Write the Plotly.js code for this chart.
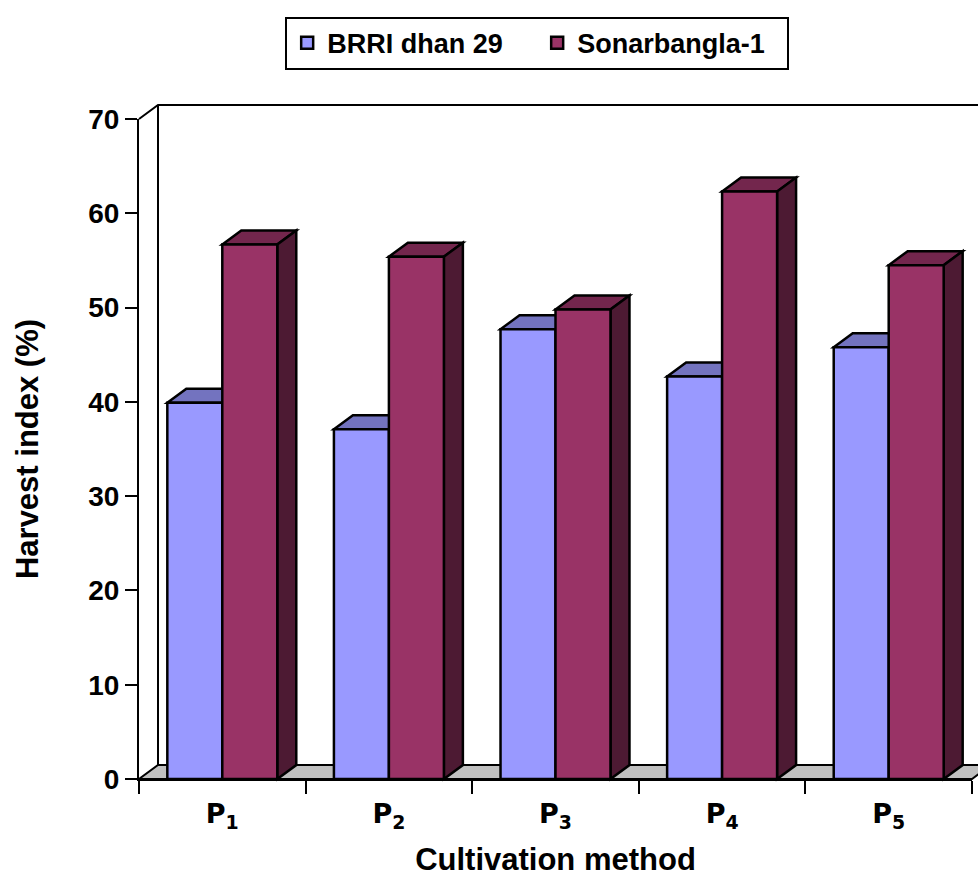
<!DOCTYPE html>
<html><head><meta charset="utf-8">
<script src="https://cdn.plot.ly/plotly-3.0.1.min.js"></script>
<style>body{margin:0;background:#fff}#chart{width:978px;height:877px}</style>
</head><body><div id="chart"></div>
<script>
// ---- data ----
const categories = ['P<sub>1</sub>', 'P<sub>2</sub>', 'P<sub>3</sub>', 'P<sub>4</sub>', 'P<sub>5</sub>'];
const catPos = [1, 2, 3, 4, 5];
const brriDhan29 = [39.9, 37.1, 47.7, 42.7, 45.8];
const sonarbangla1 = [56.7, 55.4, 49.8, 62.3, 54.5];
const yTickVals = [0, 10, 20, 30, 40, 50, 60, 70];
const seriesNames = ['BRRI dhan 29', 'Sonarbangla-1'];

// ---- style ----
const FONT = 'Liberation Sans, Arial, sans-serif';
const colFront = ['#9999FF', '#993366'];
const colTop = ['#7373BF', '#73264D'];
const colSide = ['#4D4D80', '#4D1A33'];
const M = {l: 139, r: 6, t: 119, b: 98};
const W = 978 - M.l - M.r, H = 877 - M.t - M.b;
const XR = [0.5, 5.5], YR = [0, 70];
const BARGAP = 0.34, BW = (1 - BARGAP) / 2;
const DX = 19, DY = 14; // depth in pixels
const LW = 2.5;

function px(x, d) { return (x - XR[0]) / (XR[1] - XR[0]) + (d || 0) / W; }
function py(y, d) { return (y - YR[0]) / (YR[1] - YR[0]) + (d || 0) / H; }
function path(pts) { return 'M' + pts.map(p => p[0] + ',' + p[1]).join('L') + 'Z'; }
function shape(pts, fill, lw) {
  return {type: 'path', xref: 'paper', yref: 'paper', layer: 'below',
    path: path(pts), fillcolor: fill, line: {color: 'black', width: lw}};
}

const shapes = [];
// floor
shapes.push(shape([[px(XR[0]), py(0)], [px(XR[1]), py(0)], [px(XR[1], DX), py(0, DY)], [px(XR[0], DX), py(0, DY)]], '#C0C0C0', 2));
// back wall outline
shapes.push({type: 'path', xref: 'paper', yref: 'paper', layer: 'below',
  path: 'M' + px(XR[0]) + ',' + py(YR[1]) + 'L' + px(XR[0], DX) + ',' + py(YR[1], DY) +
        'L' + px(XR[1], DX + 20) + ',' + py(YR[1], DY),
  line: {color: 'black', width: 2}});
shapes.push({type: 'line', xref: 'paper', yref: 'paper', layer: 'below',
  x0: px(XR[0], DX), x1: px(XR[0], DX), y0: py(0, DY), y1: py(YR[1], DY),
  line: {color: 'black', width: 2}});

// 3D faces of bars
const allSeries = [brriDhan29, sonarbangla1];
allSeries.forEach((vals, t) => {
  vals.forEach((v, i) => {
    const l = catPos[i] - BW + t * BW, r = l + BW;
    shapes.push(shape([[px(l), py(v)], [px(r), py(v)], [px(r, DX), py(v, DY)], [px(l, DX), py(v, DY)]], colTop[t], LW));
    if (t === 1) {
      shapes.push(shape([[px(r), py(0)], [px(r), py(v)], [px(r, DX), py(v, DY)], [px(r, DX), py(0, DY)]], colSide[t], LW));
    }
  });
});

const traces = allSeries.map((vals, t) => ({
  type: 'bar', x: catPos, y: vals, name: seriesNames[t],
  marker: {color: colFront[t], line: {color: 'black', width: LW}},
  hoverinfo: 'x+y'
}));

const layout = {
  width: 978, height: 877,
  margin: M,
  paper_bgcolor: '#ffffff', plot_bgcolor: 'rgba(0,0,0,0)',
  barmode: 'group', bargap: BARGAP, bargroupgap: 0,
  font: {family: FONT, color: 'black'},
  showlegend: true,
  legend: {orientation: 'h', x: 0.478, xanchor: 'center', y: 1.155, yanchor: 'top',
    bordercolor: 'black', borderwidth: 2, bgcolor: 'white', itemwidth: 30,
    entrywidthmode: 'pixels', entrywidth: 205,
    font: {family: FONT, size: 27, weight: 'bold', color: 'black'}, traceorder: 'normal'},
  xaxis: {range: XR, tickvals: catPos, ticktext: categories, ticks: '',
    showline: true, linecolor: 'black', linewidth: 2, showgrid: false, zeroline: false,
    ticklabelstandoff: 10,
    tickfont: {family: 'DejaVu Sans, sans-serif', size: 27, weight: 'bold', color: 'black'},
    minor: {tickmode: 'linear', tick0: 0.5, dtick: 1, ticks: 'outside', ticklen: 13, tickwidth: 2, tickcolor: 'black', showgrid: false},
    title: {text: 'Cultivation method', font: {family: FONT, size: 31, weight: 'bold', color: 'black'}, standoff: 24}},
  yaxis: {range: YR, tickvals: yTickVals, ticks: 'outside', ticklen: 12, tickwidth: 2, tickcolor: 'black',
    showline: true, linecolor: 'black', linewidth: 2, showgrid: false, zeroline: false,
    tickfont: {family: FONT, size: 28, weight: 'bold', color: 'black'},
    title: {text: 'Harvest index (%)', font: {family: FONT, size: 31, weight: 'bold', color: 'black'}, standoff: 40}},
  shapes: shapes
};

Plotly.newPlot('chart', traces, layout, {displayModeBar: false, staticPlot: true});
</script>
</body></html>
